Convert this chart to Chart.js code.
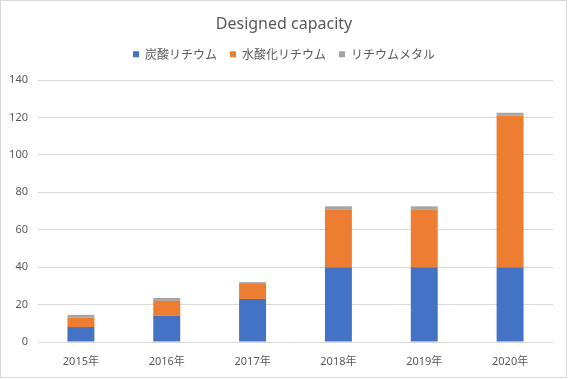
<!DOCTYPE html>
<html><head><meta charset="utf-8">
<script src="https://cdn.jsdelivr.net/npm/chart.js@4"></script>
<style>html,body{margin:0;padding:0;background:#fff;}canvas{display:block;}</style>
</head><body>
<canvas id="c" width="568" height="379"></canvas>
<script>
const categories = ['2015年','2016年','2017年','2018年','2019年','2020年'];
const lithiumCarbonate = [8, 14, 23, 40, 40, 40];
const lithiumHydroxide = [5, 8, 8, 31, 31, 81];
const lithiumMetal = [1.5, 1.5, 1, 1.5, 1.5, 1.5];
const seriesNames = ['炭酸リチウム', '水酸化リチウム', 'リチウムメタル'];
const titleText = 'Designed capacity';

const TXT = '#595959';
const FONT = "'Noto Sans', 'Noto Sans CJK JP', sans-serif";

const bgPlugin = {
  id: 'bg',
  beforeDraw(chart) {
    const ctx = chart.ctx;
    ctx.save();
    ctx.fillStyle = '#fff';
    ctx.fillRect(0, 0, chart.width, chart.height);
    ctx.restore();
  },
  afterDraw(chart) {
    const ctx = chart.ctx;
    ctx.save();
    ctx.strokeStyle = '#d9d9d9';
    ctx.lineWidth = 1;
    ctx.strokeRect(0.5, 0.5, 566, 377);
    ctx.restore();
  }
};

new Chart(document.getElementById('c'), {
  type: 'bar',
  data: {
    labels: categories,
    datasets: [
      { label: seriesNames[0], data: lithiumCarbonate, backgroundColor: '#4472C4' },
      { label: seriesNames[1], data: lithiumHydroxide, backgroundColor: '#ED7D31' },
      { label: seriesNames[2], data: lithiumMetal, backgroundColor: '#A5A5A5' }
    ]
  },
  options: {
    responsive: false,
    animation: false,
    devicePixelRatio: 1,
    layout: { padding: 0 },
    datasets: { bar: { barPercentage: 0.314, categoryPercentage: 1.0 } },
    plugins: {
      title: {
        display: true, text: titleText, color: TXT,
        font: { family: FONT, size: 16, weight: 'normal' },
        padding: { top: 15, bottom: 1 }
      },
      legend: {
        display: true, position: 'top',
        labels: {
          color: TXT, font: { family: "'Noto Sans CJK JP', sans-serif", size: 12 },
          usePointStyle: true, pointStyle: 'rect', boxWidth: 6, boxHeight: 6,
          padding: 13
        }
      },
      tooltip: { enabled: false }
    },
    scales: {
      x: {
        stacked: true,
        grid: { display: false },
        border: { display: false },
        ticks: { color: TXT, font: { family: FONT, size: 11 }, padding: 5, maxRotation: 0 },
        afterFit(s) { s.height = 37; }
      },
      xTop: {
        type: 'category', position: 'top', labels: categories,
        grid: { display: false, drawTicks: false }, border: { display: false },
        ticks: { display: false },
        afterFit(s) { s.height = 9.8; }
      },
      y: {
        stacked: true, min: 0, max: 140,
        ticks: { stepSize: 20, color: TXT, font: { family: FONT, size: 11 }, padding: 10 },
        grid: { color: '#d9d9d9', drawTicks: false },
        border: { display: false },
        afterFit(s) { s.width = 38; }
      },
      yRight: {
        type: 'linear', position: 'right', min: 0, max: 140,
        grid: { display: false, drawTicks: false }, border: { display: false },
        ticks: { display: false },
        afterFit(s) { s.width = 15; }
      }
    }
  },
  plugins: [bgPlugin]
});
</script>
</body></html>
